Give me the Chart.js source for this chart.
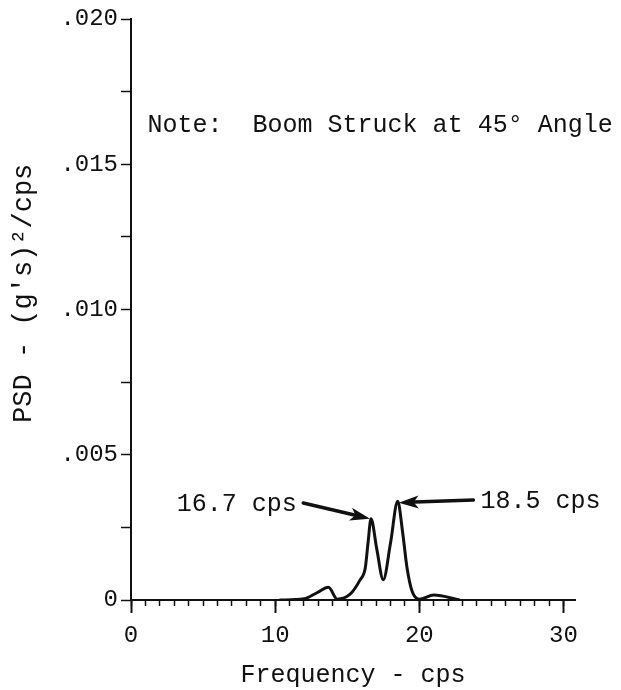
<!DOCTYPE html>
<html>
<head>
  <style>
    html, body {
        margin: 0;
        padding: 0;
        background: #fff;
    }

    #container {
        width: 621px;
        height: 690px;
    }
  </style>
</head>
<body>
    <div id="container">
        <canvas id="chart" width="621" height="690"></canvas>
    </div>

    <script src="https://cdn.jsdelivr.net/npm/chart.js"></script>
    <script>
        // PSD curve
        const frequency = [10.3, 12.0, 12.9, 13.7, 14.3, 15.2, 15.9, 16.25, 16.45, 16.65, 17.05, 17.5, 18.0, 18.5, 18.85, 19.15, 19.5, 20.0, 21.0, 22.8];
        const psd = [0, 0.00004, 0.00025, 0.00044, 0.00003, 0.0002, 0.0007, 0.0011, 0.002, 0.0028, 0.00175, 0.0007, 0.00195, 0.0034, 0.0023, 0.0011, 0.0003, 0.00003, 0.00017, 0];

        const xTickValues = [0, 10, 20, 30];
        const xTickLabels = ["0", "10", "20", "30"];
        const yTickValues = [0, 0.005, 0.010, 0.015, 0.020];
        const yTickLabels = ["0", ".005", ".010", ".015", ".020"];

        const peakLabels = ["16.7 cps", "18.5 cps"];
        const peakFreq = [16.65, 18.5];
        const peakPsd = [0.0028, 0.0034];
        const noteText = "Note:  Boom Struck at 45\u00b0 Angle";

        const FONT = "'Liberation Mono', 'DejaVu Sans Mono', monospace";
        const INK = "#111";

        function labelFor(values, labels, v) {
            const i = values.findIndex(t => Math.abs(t - v) < 1e-9);
            return i < 0 ? "" : labels[i];
        }

        function arrow(ctx, x1, y1, x2, y2) {
            const ang = Math.atan2(y2 - y1, x2 - x1);
            const len = 20, half = 6.5;
            const c = Math.cos(ang), s = Math.sin(ang);
            ctx.beginPath();
            ctx.moveTo(x1, y1);
            ctx.lineTo(x2 - c * len * 0.8, y2 - s * len * 0.8);
            ctx.stroke();
            ctx.beginPath();
            ctx.moveTo(x2, y2);
            ctx.lineTo(x2 - c * len - s * half, y2 - s * len + c * half);
            ctx.lineTo(x2 - c * len * 0.75, y2 - s * len * 0.75);
            ctx.lineTo(x2 - c * len + s * half, y2 - s * len - c * half);
            ctx.closePath();
            ctx.fill();
        }

        // note and the two peak callouts
        const notes = {
            id: "notes",
            afterDatasetsDraw(chart) {
                const { ctx, scales: { x, y } } = chart;
                ctx.save();
                ctx.fillStyle = INK;
                ctx.strokeStyle = INK;
                ctx.lineWidth = 3.5;
                ctx.lineCap = "round";
                ctx.textBaseline = "middle";

                ctx.font = "25px " + FONT;
                ctx.textAlign = "left";
                ctx.fillText(noteText, x.getPixelForValue(1.15), y.getPixelForValue(0.01635));

                // 16.7 cps, label on the left
                ctx.textAlign = "right";
                ctx.fillText(peakLabels[0], x.getPixelForValue(11.5), y.getPixelForValue(0.00328));
                arrow(ctx, x.getPixelForValue(11.95), y.getPixelForValue(0.00334),
                      x.getPixelForValue(peakFreq[0]) - 1, y.getPixelForValue(peakPsd[0]));

                // 18.5 cps, label on the right
                ctx.textAlign = "left";
                ctx.fillText(peakLabels[1], x.getPixelForValue(24.25), y.getPixelForValue(0.00338));
                arrow(ctx, x.getPixelForValue(23.75), y.getPixelForValue(0.00344),
                      x.getPixelForValue(peakFreq[1]) + 1, y.getPixelForValue(peakPsd[1] - 0.00005));
                ctx.restore();
            }
        };

        const ctx = document.getElementById("chart").getContext("2d");
        const chart = new Chart(ctx, {
            type: "line",
            data: {
                datasets: [{
                    data: frequency.map((f, i) => ({ x: f, y: psd[i] })),
                    borderColor: INK,
                    borderWidth: 3,
                    pointRadius: 0,
                    fill: false,
                    cubicInterpolationMode: "monotone"
                }]
            },
            options: {
                responsive: false,
                animation: false,
                layout: {
                    padding: { top: 19, right: 46, left: 0, bottom: 0 }
                },
                scales: {
                    x: {
                        type: "linear",
                        min: 0,
                        max: 30.8,
                        afterFit: s => { s.height = 90; },
                        afterBuildTicks: s => { s.ticks = xTickValues.map(v => ({ value: v })); },
                        ticks: {
                            color: INK,
                            font: { family: FONT, size: 24 },
                            padding: 8,
                            maxRotation: 0,
                            callback: v => labelFor(xTickValues, xTickLabels, v)
                        },
                        grid: {
                            drawOnChartArea: false,
                            tickLength: 13,
                            tickWidth: 2,
                            tickColor: INK
                        },
                        border: { color: INK, width: 2 },
                        title: {
                            display: true,
                            text: "Frequency - cps",
                            color: INK,
                            font: { family: FONT, size: 25 },
                            padding: { top: 0, bottom: 0 }
                        }
                    },
                    xMinor: {
                        type: "linear",
                        axis: "x",
                        position: { y: 0 },
                        min: 0,
                        max: 30.8,
                        afterFit: s => { s.height = 0; },
                        ticks: { display: false, stepSize: 1, includeBounds: false },
                        grid: {
                            drawOnChartArea: false,
                            tickLength: 6,
                            tickWidth: 1.5,
                            tickColor: INK
                        },
                        border: { display: false }
                    },
                    y: {
                        type: "linear",
                        min: 0,
                        max: 0.020,
                        afterFit: s => { s.width = 131; },
                        ticks: {
                            stepSize: 0.0025,
                            color: INK,
                            font: { family: FONT, size: 24 },
                            padding: 3,
                            callback: v => labelFor(yTickValues, yTickLabels, v)
                        },
                        grid: {
                            drawOnChartArea: false,
                            tickLength: 10,
                            tickWidth: 1.5,
                            tickColor: INK
                        },
                        border: { color: INK, width: 2 },
                        title: {
                            display: true,
                            text: "  PSD - (g's)\u00b2/cps",
                            color: INK,
                            font: { family: FONT, size: 27 },
                            padding: { top: 8, bottom: 0 }
                        }
                    }
                },
                plugins: {
                    legend: { display: false },
                    tooltip: { enabled: false }
                }
            },
            plugins: [notes]
        });
    </script>
</body>
</html>
